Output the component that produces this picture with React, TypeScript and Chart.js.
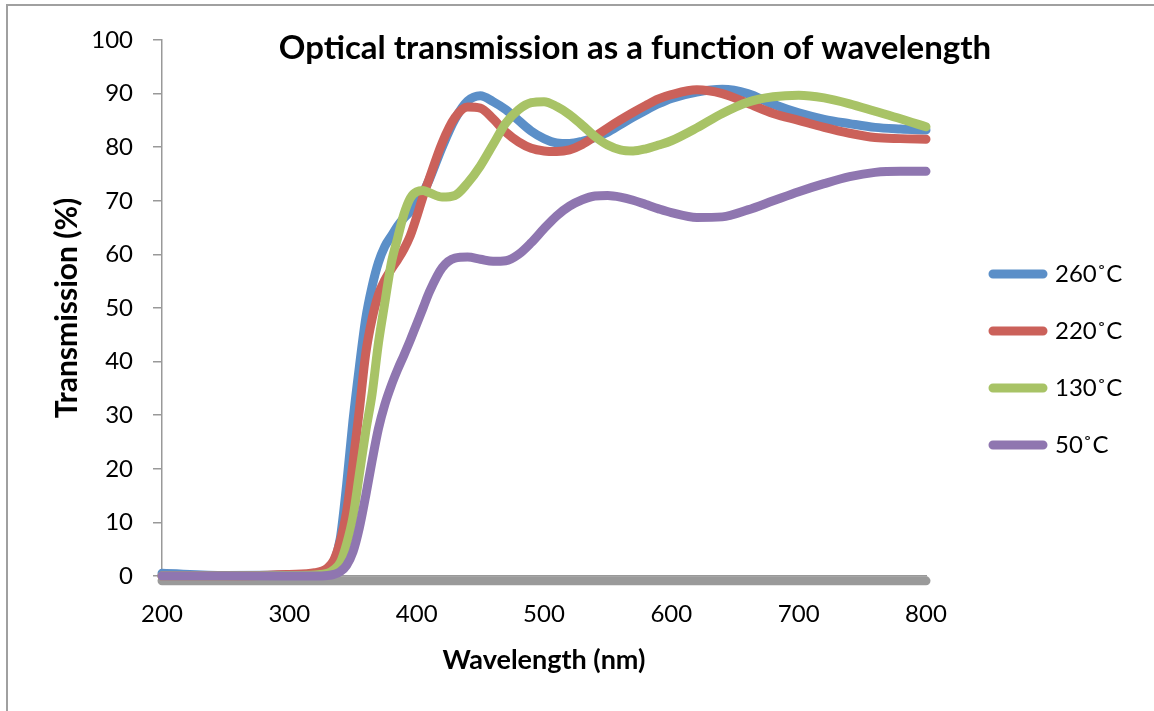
import React, { useEffect, useRef } from 'react';
import { Chart, registerables } from 'chart.js';

Chart.register(...registerables);

// Wavelength grid (nm)
const wavelengths = [
  200, 250, 300, 320, 330, 335, 340, 345, 350, 355, 360, 365, 370, 375, 380, 385, 390, 395, 400, 405,
  410, 420, 430, 440, 450, 460, 470, 480, 490, 500, 510, 520, 530, 540, 550, 560, 570, 580, 590, 600,
  620, 640, 660, 680, 700, 720, 740, 760, 780, 800,
];

// Transmission (%) per annealing temperature
const t260 = [
  0.5, 0.1, 0.2, 0.3, 0.8, 2.5, 7, 17, 29, 39, 48, 54, 58.5, 61.5, 63.4, 65.3, 66.8, 68, 69.5, 71.5,
  74, 80, 85.2, 88.6, 89.6, 88.5, 87, 85, 83, 81.6, 80.8, 80.7, 81.1, 81.8, 82.8, 84.2, 85.6, 86.9, 88.1, 89.1,
  90.3, 90.8, 90, 88, 86.4, 85.2, 84.4, 83.7, 83.4, 83.2,
];
const t220 = [
  0, 0, 0.3, 0.6, 1.5, 3, 6.5, 12, 21, 31, 41.5, 48, 52.5, 55.2, 57.2, 59, 61, 63.5, 67, 70.8,
  74.2, 80.8, 85.5, 87.5, 87.3, 85.3, 82.8, 81, 79.8, 79.3, 79.2, 79.5, 80.5, 82, 83.6, 85.1, 86.5, 87.8, 89, 89.8,
  90.7, 90, 88.2, 86.3, 85, 83.7, 82.6, 81.8, 81.6, 81.5,
];
const t130 = [
  0, 0, 0.1, 0.2, 0.5, 1.2, 2.5, 6, 11, 19, 27, 34, 43.5, 51, 58.3, 63, 67.5, 70.5, 71.7, 71.9,
  71.5, 70.7, 71, 73.3, 76.5, 80.5, 84.5, 87, 88.3, 88.5, 87.6, 86.1, 84.1, 82, 80.4, 79.5, 79.3, 79.7, 80.4, 81.2,
  83.6, 86.3, 88.4, 89.4, 89.7, 89.2, 88.1, 86.7, 85.3, 83.8,
];
const t50 = [
  0, 0, 0, 0, 0.1, 0.3, 0.8, 2, 4.5, 9, 15, 21.5, 27.5, 32, 35.5, 38.5, 41.2, 44, 47, 50,
  53, 57.5, 59.3, 59.5, 59.1, 58.7, 58.8, 60, 62.2, 64.8, 67.2, 69, 70.2, 70.9, 71, 70.7, 70.1, 69.3, 68.5, 67.8,
  66.9, 67, 68.3, 70, 71.7, 73.2, 74.5, 75.3, 75.5, 75.5,
];

// Grey baseline drawn along the bottom of the plot
const baselineX = [200, 800];
const baselineY = [-0.9, -0.9];

const seriesLabels = ['260˚C', '220˚C', '130˚C', '50˚C'];
const seriesColors = ['#5B8FC8', '#CB615A', '#A8C366', '#8F76B0'];
const baselineColor = '#9A9A9A';

const chartTitle = 'Optical transmission as a function of wavelength';
const xTitle = 'Wavelength (nm)';
const yTitle = 'Transmission (%)';

const layoutTweaks = {
  id: 'layoutTweaks',
  beforeLayout(chart: any) {
    const lg = chart.legend;
    if (lg && !lg.__patched) {
      const orig = lg.fit.bind(lg);
      lg.fit = function () {
        orig();
        this.width = 228;
      };
      lg.__patched = true;
    }
  },
  afterLayout(chart: any) {
    const lg = chart.legend;
    if (lg) {
      lg.left += 34;
      lg.right += 34;
      lg.top += 4;
      lg.bottom += 4;
    }
    const t = chart.titleBlock;
    if (t) {
      t.left += 58;
      t.right += 58;
    }
  },
};

export default function App() {
  const ref = useRef<HTMLCanvasElement>(null);

  useEffect(() => {
    if (!ref.current) return;
    Chart.defaults.font.family = 'Lato, "Open Sans", sans-serif';
    Chart.defaults.color = '#000';

    const mk = (label: string, ys: number[], color: string, order: number) => ({
      label,
      data: wavelengths.map((x, i) => ({ x, y: ys[i] })),
      borderColor: color,
      backgroundColor: color,
      borderWidth: 9,
      pointRadius: 0,
      borderCapStyle: 'round' as const,
      borderJoinStyle: 'round' as const,
      cubicInterpolationMode: 'monotone' as const,
      clip: false as const,
      order,
    });

    const series = [t260, t220, t130, t50];
    const datasets: any[] = series.map((ys, i) => mk(seriesLabels[i], ys, seriesColors[i], 4 - i));
    datasets.push({
      label: '',
      data: baselineX.map((x, i) => ({ x, y: baselineY[i] })),
      borderColor: baselineColor,
      backgroundColor: baselineColor,
      borderWidth: 9,
      pointRadius: 0,
      borderCapStyle: 'round',
      clip: false,
      order: 5,
    });

    const chart = new Chart(ref.current, {
      type: 'line',
      data: { datasets },
      options: {
        responsive: false,
        animation: false,
        layout: { padding: 0 },
        scales: {
          x: {
            type: 'linear',
            min: 200,
            max: 800,
            ticks: { stepSize: 100, padding: 24, font: { size: 24 }, color: '#000' },
            grid: { display: true, drawOnChartArea: false, drawTicks: false, color: '#999' },
            border: { color: '#999', width: 1.5 },
            title: {
              display: true,
              text: xTitle,
              font: { size: 27, weight: 'bold' },
              color: '#000',
              padding: { top: 0, bottom: 35 },
            },
            afterFit: (s: any) => {
              s.height = 135;
            },
          },
          y: {
            type: 'linear',
            min: 0,
            max: 100,
            ticks: { stepSize: 10, padding: 20, font: { size: 24 }, color: '#000' },
            grid: { drawOnChartArea: false, drawTicks: true, tickLength: 9, color: '#999', lineWidth: 1.5 },
            border: { color: '#999', width: 1.5 },
            title: {
              display: true,
              text: yTitle,
              font: { size: 30, weight: 'bold' },
              color: '#000',
              padding: { top: 49, bottom: 0 },
            },
            afterFit: (s: any) => {
              s.width = 162;
            },
          },
        },
        plugins: {
          title: {
            display: true,
            text: chartTitle,
            font: { size: 33, weight: 'bold' },
            color: '#000',
            padding: { top: 29, bottom: -28.6 },
          },
          legend: {
            position: 'right',
            align: 'center',
            labels: {
              boxWidth: 50,
              boxHeight: 0,
              padding: 33,
              font: { size: 24 },
              color: '#000',
              filter: (item: any) => item.text !== '',
              sort: (a: any, b: any) => a.datasetIndex - b.datasetIndex,
            },
          },
          tooltip: { enabled: false },
        },
      } as any,
      plugins: [layoutTweaks],
    });

    return () => chart.destroy();
  }, []);

  return (
    <div style={{ position: 'absolute', left: 0, top: 0, width: 1154, height: 711, background: '#fff' }}>
      <div
        style={{
          position: 'absolute',
          left: 6,
          top: 4,
          width: 1148,
          height: 707,
          borderTop: '2px solid #a0a0a0',
          borderLeft: '2px solid #a0a0a0',
          boxSizing: 'border-box',
        }}
      />
      <canvas ref={ref} width={1154} height={711} style={{ position: 'absolute', left: 0, top: 0, display: 'block' }} />
    </div>
  );
}
